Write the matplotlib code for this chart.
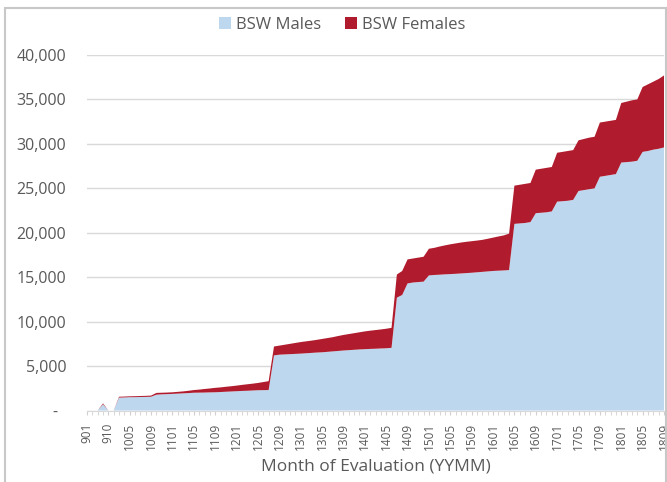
import numpy as np
import matplotlib.pyplot as plt
import matplotlib.patches as patches
from matplotlib.ticker import FixedLocator, FuncFormatter

plt.rcParams['font.family'] = ['Open Sans', 'DejaVu Sans']

# Categories (YYMM): a few irregular early points, then monthly 1005..1809
early = ['901', '903', '905', '908', '910', '1001', '1003', '1004']
monthly = []
for yy in range(10, 19):
    for mm in range(1, 13):
        if (yy == 10 and mm < 5) or (yy == 18 and mm > 9):
            continue
        monthly.append(f'{yy}{mm:02d}')
categories = early + monthly

# values in thousands
males_k = [
    0, 0, 0, 0.7, 0, 0, 1.45, 1.47,
    1.50, 1.50, 1.52, 1.53, 1.55, 1.78, 1.82, 1.84,
    1.87, 1.90, 1.93, 1.96, 2.00, 2.01, 2.02, 2.04,
    2.05, 2.08, 2.11, 2.14, 2.17, 2.20, 2.22, 2.25,
    2.28, 2.29, 2.30, 6.20, 6.28, 6.31, 6.34, 6.37,
    6.40, 6.44, 6.48, 6.52, 6.55, 6.60, 6.65, 6.70,
    6.75, 6.79, 6.83, 6.87, 6.90, 6.93, 6.95, 6.98,
    7.00, 7.05, 12.70, 13.00, 14.30, 14.40, 14.45, 14.50,
    15.20, 15.25, 15.28, 15.32, 15.35, 15.38, 15.42, 15.46,
    15.50, 15.55, 15.60, 15.65, 15.70, 15.73, 15.76, 15.80,
    21.00, 21.05, 21.10, 21.20, 22.20, 22.25, 22.30, 22.40,
    23.50, 23.55, 23.60, 23.70, 24.70, 24.80, 24.90, 25.00,
    26.30, 26.40, 26.50, 26.60, 27.90, 27.95, 28.00, 28.10,
    29.10, 29.20, 29.35, 29.45, 29.60,
]
females_k = [
    0, 0, 0, 0.1, 0, 0, 0.10, 0.10,
    0.10, 0.11, 0.11, 0.12, 0.13, 0.20, 0.18, 0.18,
    0.18, 0.20, 0.22, 0.26, 0.30, 0.34, 0.40, 0.44,
    0.50, 0.52, 0.56, 0.59, 0.63, 0.68, 0.73, 0.77,
    0.82, 0.91, 1.00, 1.00, 1.02, 1.09, 1.16, 1.23,
    1.30, 1.34, 1.38, 1.43, 1.50, 1.55, 1.60, 1.68,
    1.75, 1.81, 1.87, 1.93, 2.00, 2.05, 2.10, 2.14,
    2.20, 2.25, 2.60, 2.70, 2.70, 2.70, 2.75, 2.80,
    3.00, 3.05, 3.17, 3.26, 3.35, 3.42, 3.48, 3.52,
    3.55, 3.57, 3.60, 3.67, 3.75, 3.85, 3.94, 4.10,
    4.30, 4.35, 4.40, 4.40, 4.90, 4.95, 5.00, 5.00,
    5.50, 5.55, 5.60, 5.60, 5.70, 5.75, 5.80, 5.80,
    6.10, 6.10, 6.10, 6.10, 6.70, 6.80, 6.90, 6.90,
    7.30, 7.50, 7.65, 7.85, 8.10,
]

males = np.array(males_k) * 1000
females = np.array(females_k) * 1000
x = np.arange(len(categories))

blue = '#BDD7EE'
red = '#B01C2E'
txt = '#595959'

fig = plt.figure(figsize=(6.67, 4.82), dpi=100)
ax = fig.add_axes([87 / 667, 1 - 410.5 / 482, 577 / 667, 355.5 / 482])

ax.stackplot(x, males, females, colors=[blue, red], labels=['BSW Males', 'BSW Females'],
             edgecolor='none')

ax.set_xlim(0, len(categories) - 1)
ax.set_ylim(0, 40000)

# y axis
ax.set_yticks(np.arange(0, 40001, 5000))
ax.yaxis.set_major_formatter(FuncFormatter(lambda v, p: '-  ' if v == 0 else f'{int(v):,}'))
ax.tick_params(axis='y', length=0, pad=15, labelsize=11.5, labelcolor=txt)
ax.grid(axis='y', color='#D9D9D9', lw=1)
ax.set_axisbelow(True)

# x axis
ax.set_xticks(x[::4])
ax.set_xticklabels(categories[::4], rotation=90, fontsize=8.5, color=txt)
ax.xaxis.set_minor_locator(FixedLocator(x))
ax.tick_params(axis='x', which='both', length=3, color='#D0D0D0', pad=6)
ax.set_xlabel('Month of Evaluation (YYMM)', fontsize=12.5, color=txt, labelpad=6)

for s in ['top', 'left', 'right']:
    ax.spines[s].set_visible(False)
ax.spines['bottom'].set_color('#D9D9D9')

fig.legend(loc='center', bbox_to_anchor=(342 / 667, 1 - 25 / 482), ncol=2, frameon=False,
           fontsize=12, labelcolor=txt, handlelength=0.75, handleheight=0.75,
           handletextpad=0.3, columnspacing=1.4)

# chart border
fig.patches.append(patches.Rectangle((5 / 667, -0.1), 661 / 667, 1.1 - 8 / 482,
                                     transform=fig.transFigure, fill=False,
                                     ec='#C8C8C8', lw=1.5))

fig.savefig('out.png', dpi=100)
